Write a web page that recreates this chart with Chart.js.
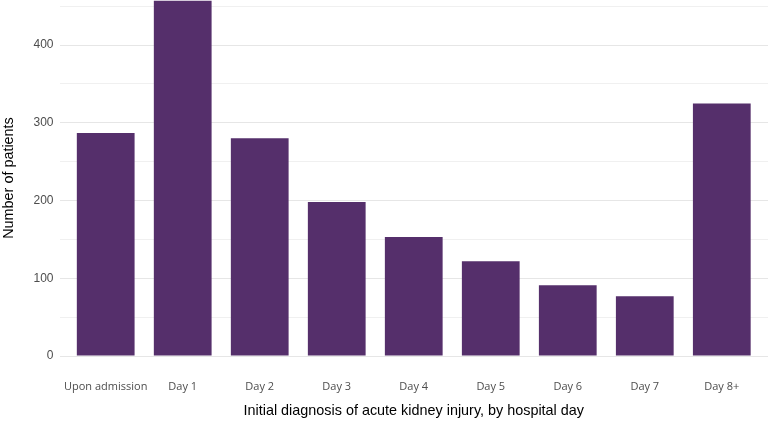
<!DOCTYPE html>
<html>
<head>
<meta charset="utf-8">
<script src="https://cdn.jsdelivr.net/npm/chart.js@4"></script>
<style>
  html, body { margin: 0; padding: 0; background: #ffffff; }
  #wrap { width: 768px; height: 425px; position: relative; }
</style>
</head>
<body>
<div id="wrap"><canvas id="c" width="768" height="425"></canvas></div>
<script>
const categories = ["Upon admission", "Day 1", "Day 2", "Day 3", "Day 4", "Day 5", "Day 6", "Day 7", "Day 8+"];
const patients = [287, 457, 280, 198, 153, 122, 91, 77, 325];
const yTickValues = [0, 50, 100, 150, 200, 250, 300, 350, 400, 450];
const yTickLabels = ["0", "", "100", "", "200", "", "300", "", "400", ""];

const points = categories.map((c, i) => ({ x: i, y: patients[i] }));

new Chart(document.getElementById('c'), {
  type: 'bar',
  data: {
    datasets: [{
      data: points,
      backgroundColor: '#552f6b',
      borderWidth: 0,
      barPercentage: 0.75,
      categoryPercentage: 1.0
    }]
  },
  options: {
    responsive: false,
    animation: false,
    layout: { padding: 0 },
    plugins: { legend: { display: false }, tooltip: { enabled: false } },
    scales: {
      x: {
        type: 'linear',
        min: -0.6,
        max: 8.6,
        offset: false,
        afterBuildTicks: (s) => { s.ticks = categories.map((c, i) => ({ value: i })); },
        afterFit: (s) => { s.height = 69; s.paddingLeft = 0; s.paddingRight = 0; },
        grid: { display: false, drawTicks: false },
        border: { display: false },
        ticks: {
          autoSkip: false,
          maxRotation: 0,
          padding: 24,
          color: '#4d4d4d',
          font: { family: 'Open Sans', size: 11 },
          callback: (v) => categories[v]
        },
        title: {
          display: true,
          text: 'Initial diagnosis of acute kidney injury, by hospital day',
          color: '#000000',
          font: { family: 'Liberation Sans', size: 14.4 },
          padding: { top: 0, bottom: 5 }
        }
      },
      y: {
        min: 0,
        max: 458,
        afterBuildTicks: (s) => { s.ticks = yTickValues.map(v => ({ value: v })); },
        afterFit: (s) => { s.width = 59.5; s.paddingTop = 0; s.paddingBottom = 0; },
        grid: {
          drawTicks: false,
          color: (ctx) => (ctx.tick && ctx.tick.value % 100 === 0) ? '#e6e6e6' : '#f0f0f0',
          lineWidth: 1
        },
        border: { display: false },
        ticks: {
          padding: 6,
          color: '#4d4d4d',
          font: { family: 'Liberation Sans', size: 12 },
          callback: (v) => yTickLabels[yTickValues.indexOf(v)]
        },
        title: {
          display: true,
          text: 'Number of patients',
          color: '#000000',
          font: { family: 'Liberation Sans', size: 14.4 },
          padding: { top: 0, bottom: 0 }
        }
      }
    }
  }
});
</script>
</body>
</html>
